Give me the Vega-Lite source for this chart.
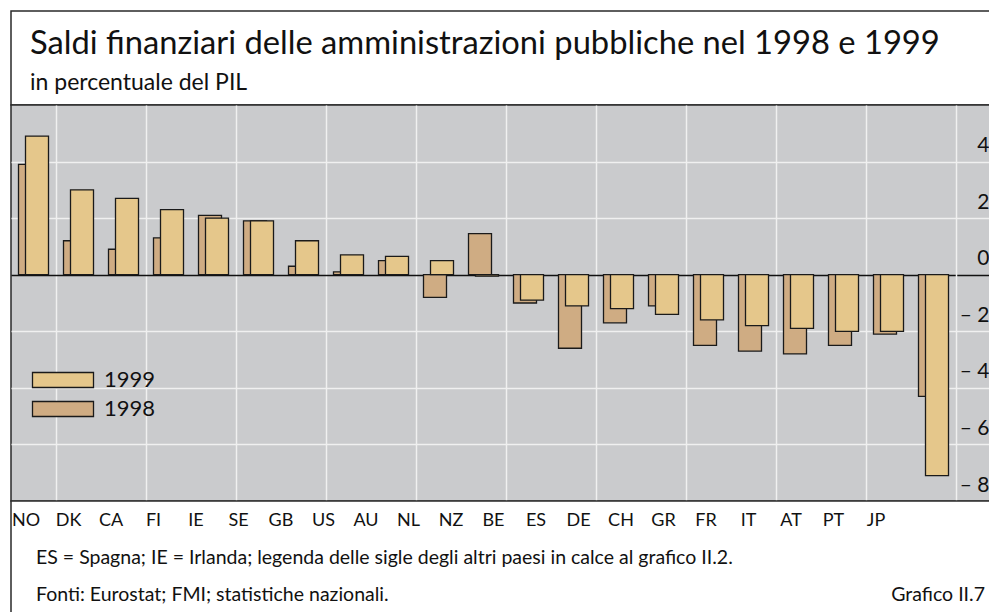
{
  "$schema": "https://vega.github.io/schema/vega-lite/v6.json",
  "padding": {"left": 10, "top": 10, "right": 0, "bottom": 0},
  "spacing": 0,
  "bounds": "flush",
  "config": {"font": "Lato", "text": {"color": "#111"}},
  "datasets": {
    "saldi": [
      {"country": "NO", "year": "1998", "value": 3.9},
      {"country": "NO", "year": "1999", "value": 4.9},
      {"country": "DK", "year": "1998", "value": 1.2},
      {"country": "DK", "year": "1999", "value": 3.0},
      {"country": "CA", "year": "1998", "value": 0.9},
      {"country": "CA", "year": "1999", "value": 2.7},
      {"country": "FI", "year": "1998", "value": 1.3},
      {"country": "FI", "year": "1999", "value": 2.3},
      {"country": "IE", "year": "1998", "value": 2.1},
      {"country": "IE", "year": "1999", "value": 2.0},
      {"country": "SE", "year": "1998", "value": 1.9},
      {"country": "SE", "year": "1999", "value": 1.9},
      {"country": "GB", "year": "1998", "value": 0.3},
      {"country": "GB", "year": "1999", "value": 1.2},
      {"country": "US", "year": "1998", "value": 0.1},
      {"country": "US", "year": "1999", "value": 0.7},
      {"country": "AU", "year": "1998", "value": 0.5},
      {"country": "AU", "year": "1999", "value": 0.65},
      {"country": "NL", "year": "1998", "value": -0.8},
      {"country": "NL", "year": "1999", "value": 0.5},
      {"country": "NZ", "year": "1998", "value": 1.45},
      {"country": "NZ", "year": "1999", "value": -0.05},
      {"country": "BE", "year": "1998", "value": -1.0},
      {"country": "BE", "year": "1999", "value": -0.9},
      {"country": "ES", "year": "1998", "value": -2.6},
      {"country": "ES", "year": "1999", "value": -1.1},
      {"country": "DE", "year": "1998", "value": -1.7},
      {"country": "DE", "year": "1999", "value": -1.2},
      {"country": "CH", "year": "1998", "value": -1.1},
      {"country": "CH", "year": "1999", "value": -1.4},
      {"country": "GR", "year": "1998", "value": -2.5},
      {"country": "GR", "year": "1999", "value": -1.6},
      {"country": "FR", "year": "1998", "value": -2.7},
      {"country": "FR", "year": "1999", "value": -1.8},
      {"country": "IT", "year": "1998", "value": -2.8},
      {"country": "IT", "year": "1999", "value": -1.9},
      {"country": "AT", "year": "1998", "value": -2.5},
      {"country": "AT", "year": "1999", "value": -2.0},
      {"country": "PT", "year": "1998", "value": -2.1},
      {"country": "PT", "year": "1999", "value": -2.0},
      {"country": "JP", "year": "1998", "value": -4.3},
      {"country": "JP", "year": "1999", "value": -7.1}
    ],
    "note": [
      {"line": "note1", "side": "left", "text": "ES = Spagna; IE = Irlanda; legenda delle sigle degli altri paesi in calce al grafico II.2."},
      {"line": "note2", "side": "left", "text": "Fonti: Eurostat; FMI; statistiche nazionali."},
      {"line": "note2", "side": "right", "text": "Grafico II.7"}
    ]
  },
  "vconcat": [
    {
      "width": 981,
      "height": 94,
      "view": {"fill": "white", "stroke": "#2a2a2a", "strokeWidth": 1.5},
      "title": {
        "text": "Saldi finanziari delle amministrazioni pubbliche nel 1998 e 1999",
        "subtitle": "in percentuale del PIL",
        "anchor": "start",
        "frame": "group",
        "orient": "top",
        "offset": -84,
        "dx": 19,
        "font": "Lato",
        "fontSize": 32.7,
        "fontWeight": "normal",
        "color": "#111",
        "subtitleFont": "Lato",
        "subtitleFontSize": 23,
        "subtitleColor": "#111",
        "subtitlePadding": 11
      },
      "data": {"values": []},
      "mark": "point"
    },
    {
      "width": 981,
      "height": 396,
      "view": {"fill": "#CACBCD", "stroke": "#2a2a2a", "strokeWidth": 1.5},
      "data": {"name": "saldi"},
      "encoding": {
        "x": {
          "field": "country", "type": "nominal", "sort": null,
          "scale": {"domain": ["NO","DK","CA","FI","IE","SE","GB","US","AU","NL","NZ","BE","ES","DE","CH","GR","FR","IT","AT","PT","JP"], "paddingInner": 0, "paddingOuter": 0.4, "align": 0},
          "axis": {"orient": "bottom", "labels": false, "ticks": false, "domain": false, "title": null, "grid": true, "bandPosition": 0, "values": ["DK","FI","SE","US","NL","BE","DE","GR","IT","PT"], "gridColor": "#F0F0F0", "gridWidth": 1.5}
        },
        "y": {
          "field": "value", "type": "quantitative",
          "scale": {"domain": [-8, 6], "nice": false},
          "axis": {
            "orient": "right", "offset": -36, "values": [-8, -6, -4, -2, 0, 2, 4],
            "grid": true,
            "gridColor": {"condition": {"test": "datum.value === 0", "value": "#111111"}, "value": "#F0F0F0"},
            "gridWidth": 1.5,
            "domain": true, "domainColor": "#F0F0F0", "domainWidth": 1.5,
            "ticks": false, "labelPadding": 33, "labelAlign": "right", "labelOffset": -16,
            "labelFont": "Lato", "labelFontSize": 21, "labelColor": "#111",
            "labelExpr": "datum.value < 0 ? '– ' + abs(datum.value) : datum.label",
            "title": null
          }
        },
        "color": {
          "field": "year", "type": "nominal",
          "scale": {"domain": ["1999", "1998"], "range": ["#E5C78B", "#CFAC83"]},
          "legend": {
            "title": null, "orient": "none", "legendX": 41, "legendY": 358,
            "symbolType": "M-4.067,-1H4.067V1H-4.067Z", "symbolSize": 225,
            "symbolStrokeColor": "#1a1a1a", "symbolStrokeWidth": 1.3, "symbolOpacity": 1,
            "labelFont": "Lato", "labelFontSize": 22, "labelColor": "#111", "labelOffset": 30,
            "rowPadding": 7, "padding": 0,
            "encode": {"symbols": {"update": {"stroke": {"value": "#1a1a1a"}, "strokeWidth": {"value": 1.3}, "opacity": {"value": 1}}}}
          }
        }
      },
      "layer": [
        {
          "transform": [{"filter": "datum.year === '1998'"}],
          "mark": {"type": "bar", "width": 23, "xOffset": -3.5, "stroke": "#1a1a1a", "strokeWidth": 1.3}
        },
        {
          "transform": [{"filter": "datum.year === '1999'"}],
          "mark": {"type": "bar", "width": 23, "xOffset": 3.5, "stroke": "#1a1a1a", "strokeWidth": 1.3}
        }
      ]
    },
    {
      "width": 981,
      "height": 114,
      "view": {"fill": "white", "stroke": "#2a2a2a", "strokeWidth": 1.5},
      "resolve": {"scale": {"x": "independent"}},
      "layer": [
        {
          "data": {"name": "saldi"},
          "transform": [{"filter": "datum.year === '1999'"}],
          "mark": {"type": "text", "fontSize": 18, "font": "Lato", "color": "#111"},
          "encoding": {
            "x": {"field": "country", "type": "nominal", "sort": null, "axis": null,
                  "scale": {"type": "point", "domain": ["NO","DK","CA","FI","IE","SE","GB","US","AU","NL","NZ","BE","ES","DE","CH","GR","FR","IT","AT","PT","JP"], "range": [15, 865], "padding": 0}},
            "y": {"datum": "labels", "type": "nominal", "axis": null,
                  "scale": {"type": "point", "domain": ["labels", "note1", "note2"], "range": [20, 94], "padding": 0}},
            "text": {"field": "country"}
          }
        },
        {
          "data": {"name": "note"},
          "transform": [{"filter": "datum.side === 'left'"}],
          "mark": {"type": "text", "fontSize": 19.5, "font": "Lato", "align": "left", "color": "#111"},
          "encoding": {
            "x": {"field": "side", "type": "nominal", "axis": null,
                  "scale": {"type": "point", "domain": ["left", "right"], "range": [25, 974], "padding": 0}},
            "y": {"field": "line", "type": "nominal", "axis": null,
                  "scale": {"type": "point", "domain": ["labels", "note1", "note2"], "range": [20, 94], "padding": 0}},
            "text": {"field": "text"}
          }
        },
        {
          "data": {"name": "note"},
          "transform": [{"filter": "datum.side === 'right'"}],
          "mark": {"type": "text", "fontSize": 19.5, "font": "Lato", "align": "right", "color": "#111"},
          "encoding": {
            "x": {"field": "side", "type": "nominal", "axis": null,
                  "scale": {"type": "point", "domain": ["left", "right"], "range": [25, 974], "padding": 0}},
            "y": {"field": "line", "type": "nominal", "axis": null,
                  "scale": {"type": "point", "domain": ["labels", "note1", "note2"], "range": [20, 94], "padding": 0}},
            "text": {"field": "text"}
          }
        }
      ]
    }
  ]
}
